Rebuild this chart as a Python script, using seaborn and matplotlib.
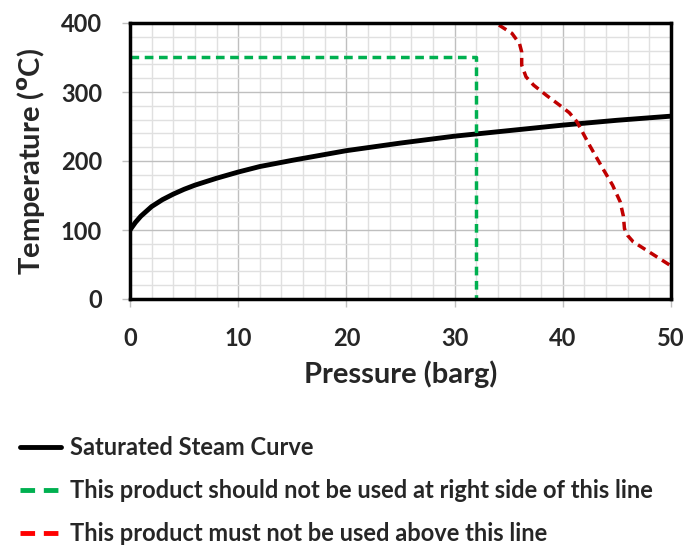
import matplotlib
matplotlib.use("Agg")
import matplotlib.pyplot as plt
import matplotlib.lines as mlines
import pandas as pd
import seaborn as sns
from matplotlib.ticker import MultipleLocator

# saturated steam curve (gauge pressure vs temperature)
steam_p = [0, 0.5, 1, 2, 3, 4, 5, 6, 8, 10, 12, 15, 20, 25, 30, 35, 40, 45, 50]
steam_t = [100, 111, 120, 134, 144, 152, 159, 165, 175, 184, 192, 201, 215, 226, 236, 244, 252, 259, 265]

# product limit - right side
limit_p = [0, 32, 32]
limit_t = [350, 350, 0]

# product limit - above
max_p = [34.1, 35.3, 36.0, 36.2, 36.2, 36.6, 37.3, 38.5, 39.7, 40.6, 41.3, 42.5, 43.7, 44.6, 45.3, 45.6, 45.7, 46.0, 46.5, 48.0, 49.9]
max_t = [397, 385, 370, 358, 339, 322, 310, 295, 281, 270, 257, 222, 189, 165, 141, 120, 102, 92, 83, 68, 49]

labels = ["Saturated Steam Curve",
          "This product should not be used at right side of this line",
          "This product must not be used above this line"]

sns.set_theme(style="white")
plt.rcParams["font.family"] = ["Lato", "DejaVu Sans"]
plt.rcParams["font.weight"] = "bold"
plt.rcParams["mathtext.default"] = "bf"

fig = plt.figure(figsize=(6.99, 5.45), dpi=100)
ax = fig.add_axes([130 / 699, 1 - 299 / 545, 541 / 699, 276 / 545])

dash = (0, (2.5, 1.6))
steam = pd.DataFrame({"p": steam_p, "t": steam_t})
sns.lineplot(data=steam, x="p", y="t", ax=ax, color="black", linewidth=3.5,
             sort=False, estimator=None)
sns.lineplot(x=limit_p, y=limit_t, ax=ax, color="#00b050", linewidth=2.5,
             linestyle=dash, sort=False, estimator=None)
sns.lineplot(x=max_p, y=max_t, ax=ax, color="#c00000", linewidth=2.5,
             linestyle=dash, sort=False, estimator=None)

ax.set_xlim(0, 50)
ax.set_ylim(0, 400)
ax.xaxis.set_major_locator(MultipleLocator(10))
ax.xaxis.set_minor_locator(MultipleLocator(2))
ax.yaxis.set_major_locator(MultipleLocator(100))
ax.yaxis.set_minor_locator(MultipleLocator(20))
ax.grid(which="major", color="#bfbfbf", linewidth=1)
ax.grid(which="minor", color="#e0e0e0", linewidth=1)
ax.set_axisbelow(True)
ax.tick_params(which="major", length=6, color="#bfbfbf", width=1,
               labelsize=17, bottom=True, left=True)
ax.tick_params(axis="x", which="major", pad=14)
ax.tick_params(axis="y", which="major", pad=14)
ax.tick_params(which="minor", length=0)
for lab in ax.get_xticklabels() + ax.get_yticklabels():
    lab.set_fontweight("bold")
for s in ax.spines.values():
    s.set_color("black")
    s.set_linewidth(2.5)

ax.set_xlabel("Pressure (barg)", fontsize=21, fontweight="bold", labelpad=8)
ax.set_ylabel(r"Temperature ($^o$C)", fontsize=21, fontweight="bold", labelpad=10)

leg_dash = (0, (3.0, 1.8))
handles = [
    mlines.Line2D([], [], color="black", linewidth=3.5),
    mlines.Line2D([], [], color="#00b050", linewidth=3.5, linestyle=leg_dash),
    mlines.Line2D([], [], color="#ff0000", linewidth=3.5, linestyle=leg_dash),
]
fig.legend(handles, labels, loc="upper left", bbox_to_anchor=(0.028, 1 - 436 / 545),
           frameon=False, handlelength=1.75, handletextpad=0.4,
           labelspacing=0.85, borderaxespad=0, borderpad=0,
           prop={"weight": "bold", "size": 17})

fig.savefig("out.png", dpi=100)
